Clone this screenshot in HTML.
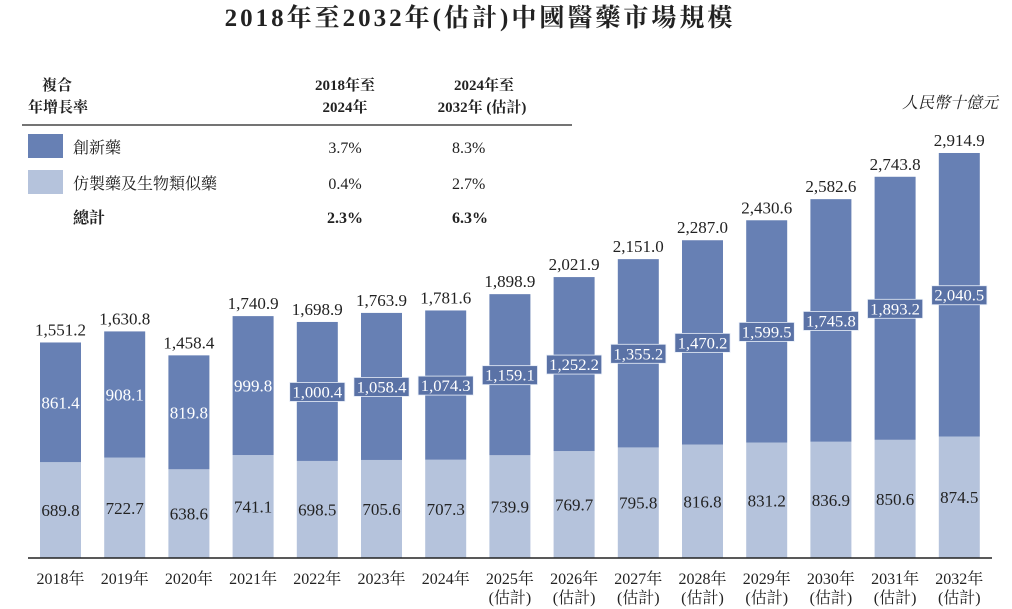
<!DOCTYPE html>
<html><head><meta charset="utf-8"><style>
body{margin:0;background:#fff;}
svg{display:block;font-family:"Liberation Serif","Noto Serif CJK SC",serif;}
</style></head><body>
<svg id="chart" width="1012" height="609" viewBox="0 0 1012 609">
<text x="480" y="26" text-anchor="middle" font-size="25" font-weight="bold" fill="#222" letter-spacing="3">2018年至2032年(估計)中國醫藥市場規模</text>
<g font-size="16" fill="#222">
<text x="57" y="90" text-anchor="middle" font-weight="bold" font-size="15">複合</text>
<text x="58" y="112" text-anchor="middle" font-weight="bold" font-size="15">年增長率</text>
<text x="345" y="90" text-anchor="middle" font-weight="bold" font-size="15">2018年至</text>
<text x="345" y="112" text-anchor="middle" font-weight="bold" font-size="15">2024年</text>
<text x="484" y="90" text-anchor="middle" font-weight="bold" font-size="15">2024年至</text>
<text x="482" y="112" text-anchor="middle" font-weight="bold" font-size="15">2032年 (估計)</text>
<line x1="22" y1="125" x2="572" y2="125" stroke="#222" stroke-width="1.2"/>
<rect x="28" y="134" width="35" height="24" fill="#6780b4"/>
<text x="73" y="153">創新藥</text><text x="345" y="153" text-anchor="middle">3.7%</text><text x="452" y="153" font-size="16">8.3%</text>
<rect x="28" y="170" width="35" height="24" fill="#b5c3dc"/>
<text x="73" y="189">仿製藥及生物類似藥</text><text x="345" y="189" text-anchor="middle">0.4%</text><text x="452" y="189">2.7%</text>
<text x="73" y="223" font-weight="bold">總計</text><text x="345" y="223" text-anchor="middle" font-weight="bold">2.3%</text><text x="452" y="223" font-weight="bold">6.3%</text>
</g>
<text x="998" y="108" text-anchor="end" font-size="16" font-style="italic" fill="#222">人民幣十億元</text>
<g id="bars"></g>
<line x1="28" y1="558" x2="992" y2="558" stroke="#222" stroke-width="1.5"/>
</svg>
<script>
const categories=["2018","2019","2020","2021","2022","2023","2024","2025","2026","2027","2028","2029","2030","2031","2032"];
const estimated=[false,false,false,false,false,false,false,true,true,true,true,true,true,true,true];
const generic=[689.8,722.7,638.6,741.1,698.5,705.6,707.3,739.9,769.7,795.8,816.8,831.2,836.9,850.6,874.5];
const innovative=[861.4,908.1,819.8,999.8,1000.4,1058.4,1074.3,1159.1,1252.2,1355.2,1470.2,1599.5,1745.8,1893.2,2040.5];
const totals=[1551.2,1630.8,1458.4,1740.9,1698.9,1763.9,1781.6,1898.9,2021.9,2151.0,2287.0,2430.6,2582.6,2743.8,2914.9];
const baseY=558, scale=405/2914.9, x0=60.5, step=64.2, bw=41;
const yS=v=>baseY-v*scale, xC=i=>x0+i*step;
const fmt=v=>v.toLocaleString('en-US',{minimumFractionDigits:1,maximumFractionDigits:1});
const NS="http://www.w3.org/2000/svg", g=document.getElementById('bars');
function mk(t,a,txt){const e=document.createElementNS(NS,t);for(const k in a)e.setAttribute(k,a[k]);if(txt!==undefined)e.textContent=txt;g.appendChild(e);return e;}
categories.forEach((c,i)=>{
  const cx=xC(i), gTop=yS(generic[i]), iTop=yS(generic[i]+innovative[i]);
  let r=mk('rect',{x:cx-bw/2,y:gTop,width:bw,height:baseY-gTop,fill:'#b5c3dc'});
  
  
  r=mk('rect',{x:cx-bw/2,y:iTop,width:bw,height:gTop-iTop,fill:'#6780b4'});
  
  
  const iy=(iTop+gTop)/2, gy=(gTop+baseY)/2;
  const s=fmt(innovative[i]);
  const big=innovative[i]>=1000;
  if(big){
    const w=s.length*7.6+2;
    const b=mk('rect',{x:cx-w/2,y:iy-9,width:w,height:19,fill:'#5a72a6',stroke:'#e8eef8','stroke-width':0.8});
    
    
  }
  let t=mk('text',{x:cx,y:iy+6,'text-anchor':'middle','font-size':big?16:17,fill:'#fff','textLength':big?s.length*7.4-2:'', 'lengthAdjust':'spacingAndGlyphs'},s);
  if(!big)t.removeAttribute('textLength');
  
  
  t=mk('text',{x:cx,y:gy+6,'text-anchor':'middle','font-size':17,fill:'#222'},fmt(generic[i]));
  
  
  t=mk('text',{x:cx,y:iTop-7,'text-anchor':'middle','font-size':17,fill:'#222'},fmt(totals[i]));
  
  
  t=mk('text',{x:cx,y:584,'text-anchor':'middle','font-size':16,fill:'#222'},c+'年');
  
  
  if(estimated[i]){
    t=mk('text',{x:cx,y:603,'text-anchor':'middle','font-size':16,fill:'#222'},'(估計)');
    
    
  }
});
</script>
</body></html>
